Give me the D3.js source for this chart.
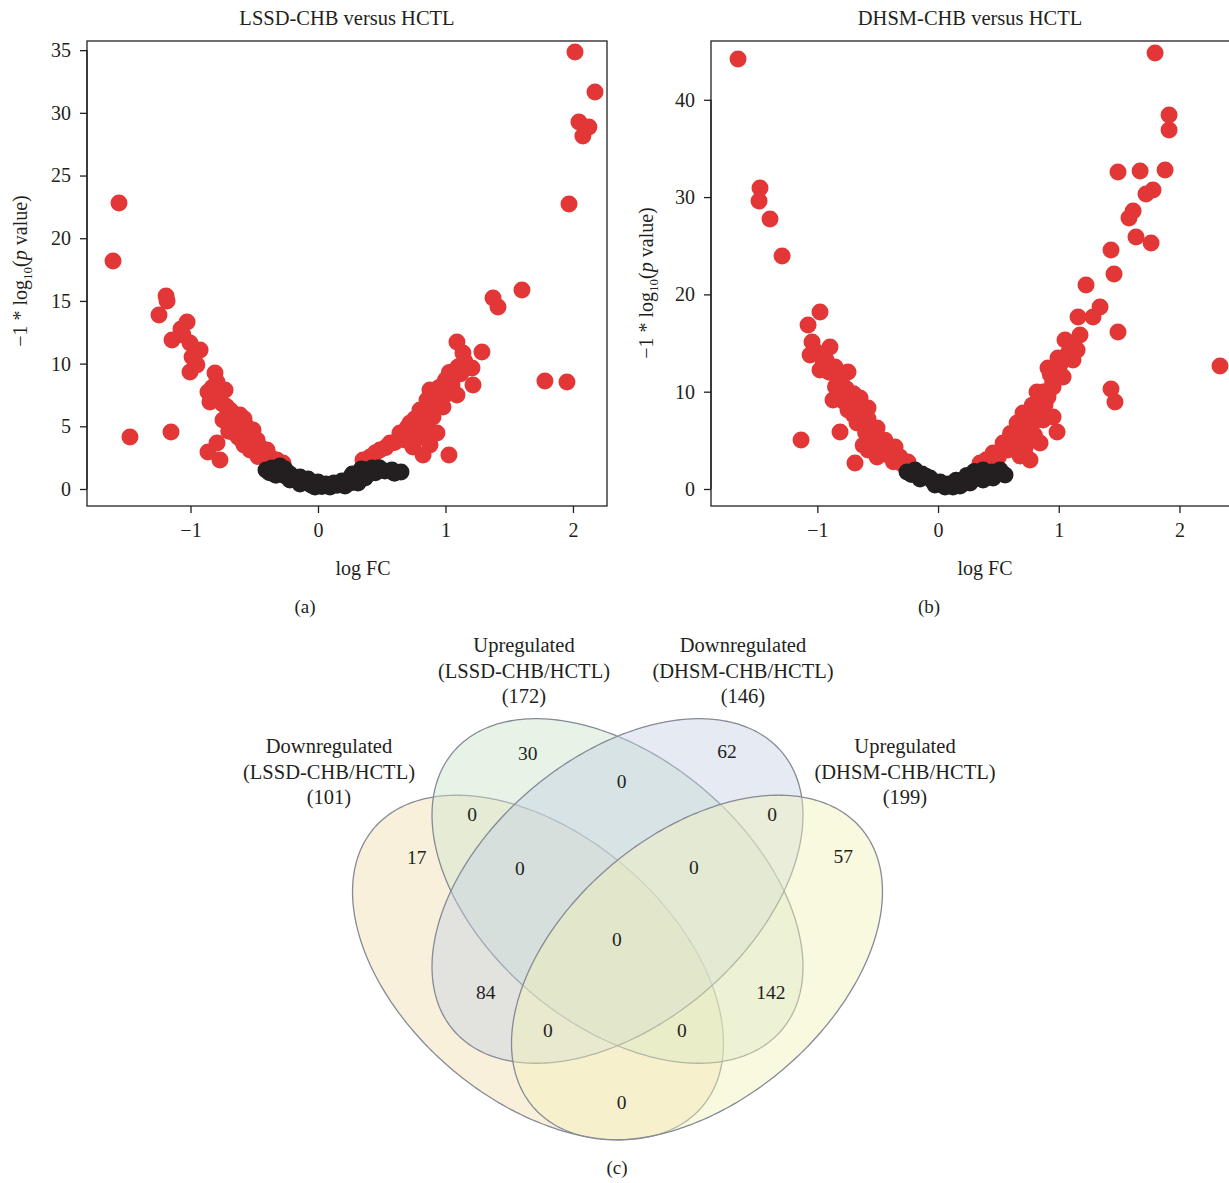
<!DOCTYPE html>
<html>
<head>
<meta charset="utf-8">
<script src="https://cdn.jsdelivr.net/npm/d3@7"></script>
<style>
  body { margin: 0; background: #fff; }
  svg { display: block; font-family: "Liberation Serif", "DejaVu Serif", serif; }
</style>
</head>
<body>
<div id="chart"></div>
<script>
// ---- volcano (a): LSSD-CHB versus HCTL, [logFC, -log10 p]
const lssdRed = [
  [-1.561,22.81],[-1.608,18.18],[-1.192,15.39],[-1.184,14.99],[-1.247,13.88],[-1.027,13.32],
  [-1.075,12.76],[-1.145,11.88],[-1.059,12.28],[-1.004,11.64],[-0.925,11.08],[-0.988,10.53],
  [-1.004,9.33],[-0.950,9.90],[-0.808,9.25],[-0.792,8.53],[-0.830,8.10],[-0.863,7.74],
  [-0.800,7.60],[-0.847,6.94],[-0.769,7.10],[-0.750,6.80],[-0.729,7.89],[-0.720,6.60],
  [-0.690,6.30],[-0.660,6.00],[-0.612,5.90],[-0.745,5.50],[-0.675,5.66],[-0.700,5.20],
  [-0.640,5.30],[-0.580,5.60],[-0.651,4.94],[-0.557,4.94],[-0.700,4.60],[-0.660,4.50],
  [-0.600,4.60],[-0.627,4.15],[-0.573,4.31],[-0.540,4.20],[-0.510,4.70],[-0.600,3.90],
  [-0.478,3.91],[-0.500,3.60],[-0.580,3.50],[-0.533,3.11],[-0.455,3.35],[-0.400,3.11],
  [-0.430,2.80],[-0.470,2.60],[-0.376,2.55],[-0.350,2.00],[-0.792,3.67],[-0.863,2.95],
  [-0.769,2.31],[-0.322,2.31],[-0.275,2.07],[-1.475,4.15],[-1.153,4.55],
  [2.016,34.85],[2.173,31.66],[2.047,29.27],[2.125,28.87],[2.078,28.15],[1.969,22.73],
  [1.600,15.87],[1.373,15.23],[1.412,14.51],[1.780,8.61],[1.953,8.53],[1.090,11.72],
  [1.286,10.93],[1.137,10.85],[1.150,10.20],[1.098,9.73],[1.208,9.65],[1.030,9.30],
  [1.120,9.20],[1.216,8.29],[1.051,8.29],[1.000,8.70],[0.950,8.10],[1.090,7.50],
  [0.996,7.50],[0.930,7.30],[0.878,7.89],[0.894,7.10],[0.855,7.10],[0.860,6.90],
  [0.980,6.54],[0.880,6.50],[0.800,6.30],[0.820,6.00],[0.902,5.74],[0.840,5.60],
  [0.760,5.60],[0.800,5.10],[0.722,5.26],[0.700,4.90],[0.780,4.80],[0.860,4.90],
  [0.933,4.47],[0.900,4.40],[0.824,4.15],[0.761,4.55],[0.720,4.50],[0.643,4.47],
  [0.660,4.10],[0.682,3.91],[0.600,3.70],[0.565,3.67],[0.745,3.35],[0.878,3.50],
  [0.530,3.30],[0.824,2.71],[0.486,3.11],[0.450,2.90],[0.408,2.55],[0.353,2.31],[1.027,2.71]
];
const lssdBlack = [
  [-0.408,1.52],[-0.380,1.30],[-0.361,1.67],[-0.330,1.10],[-0.298,1.83],[-0.282,1.36],
  [-0.260,1.60],[-0.250,1.00],[-0.220,1.20],[-0.220,0.72],[-0.180,0.80],[-0.141,0.96],
  [-0.141,0.40],[-0.100,0.60],[-0.078,0.80],[-0.050,0.30],[0.000,0.56],[-0.024,0.16],
  [0.030,0.20],[0.063,0.40],[0.094,0.16],[0.125,0.48],[0.150,0.30],[0.188,0.64],
  [0.212,0.24],[0.251,0.88],[0.260,0.50],[0.270,1.20],[0.314,1.20],[0.314,0.48],
  [0.330,0.80],[0.340,1.60],[0.369,0.88],[0.376,1.52],[0.400,1.20],[0.424,1.67],
  [0.450,1.30],[0.480,1.70],[0.525,1.44],[0.580,1.52],[0.600,1.25],[0.651,1.36]
];
const lssdXTicks = [-1, 0, 1, 2];
const lssdYTicks = [0, 5, 10, 15, 20, 25, 30, 35];

// ---- volcano (b): DHSM-CHB versus HCTL
const dhsmRed = [
  [-1.657,44.19],[-1.475,30.94],[-1.483,29.60],[-1.392,27.75],[-1.292,23.95],[-0.978,18.19],
  [-1.077,16.86],[-1.044,15.11],[-1.020,14.20],[-0.895,14.59],[-1.060,13.77],[-0.950,13.00],
  [-0.928,13.26],[-0.978,12.23],[-0.900,12.00],[-0.853,12.54],[-0.746,12.02],[-0.800,11.40],
  [-0.812,10.89],[-0.850,10.50],[-0.760,10.30],[-0.700,9.80],[-0.870,9.15],[-0.771,9.97],
  [-0.780,9.00],[-0.646,9.35],[-0.729,9.35],[-0.680,8.70],[-0.620,8.20],[-0.580,8.32],
  [-0.746,8.12],[-0.700,7.60],[-0.630,7.60],[-0.580,7.20],[-0.630,6.80],[-0.671,6.78],
  [-0.505,6.27],[-0.530,6.00],[-0.600,5.80],[-0.500,5.20],[-0.440,5.00],[-0.563,5.34],
  [-0.520,4.60],[-0.620,4.50],[-0.580,4.01],[-0.456,4.73],[-0.400,4.00],[-0.356,4.32],
  [-0.480,3.70],[-0.505,3.29],[-0.414,3.49],[-0.370,2.80],[-0.315,3.29],[-0.300,2.60],
  [-0.249,2.77],[-1.135,5.04],[-0.812,5.86],[-0.688,2.67],
  [1.798,44.81],[1.914,38.44],[1.914,36.90],[1.881,32.79],[1.491,32.58],[1.674,32.68],
  [1.781,30.73],[1.723,30.32],[1.616,28.57],[1.582,27.85],[1.640,25.90],[1.765,25.28],
  [1.433,24.56],[1.458,22.10],[1.226,20.97],[2.336,12.64],[1.433,10.28],[1.466,8.94],
  [1.491,16.14],[1.342,18.71],[1.284,17.68],[1.160,17.68],[1.176,15.83],[1.052,15.31],
  [1.100,15.00],[1.152,14.29],[1.080,14.00],[0.994,13.46],[1.118,13.26],[1.020,13.00],
  [1.000,12.30],[0.911,12.44],[0.930,11.80],[1.036,11.51],[0.950,11.00],[0.953,10.48],
  [0.880,10.00],[0.820,9.97],[0.911,9.46],[0.860,9.00],[0.886,8.63],[0.780,8.60],
  [0.820,8.00],[0.953,7.40],[0.870,7.09],[0.760,7.20],[0.986,5.86],[0.704,7.81],
  [0.655,6.78],[0.787,6.78],[0.720,6.30],[0.762,6.06],[0.600,5.70],[0.700,5.60],
  [0.800,5.50],[0.621,5.34],[0.679,5.04],[0.845,4.73],[0.620,4.60],[0.550,4.40],
  [0.720,4.20],[0.660,4.10],[0.680,3.40],[0.762,2.98],[0.539,4.73],[0.580,4.00],
  [0.500,3.30],[0.456,3.70],[0.400,3.00],[0.348,2.67]
];
const dhsmBlack = [
  [-0.257,1.75],[-0.220,1.50],[-0.191,1.95],[-0.180,1.60],[-0.133,1.54],[-0.149,1.03],
  [-0.100,1.30],[-0.066,1.13],[-0.050,0.90],[-0.025,0.41],[0.017,0.72],[0.030,0.50],
  [0.058,0.21],[0.083,0.51],[0.100,0.40],[0.124,0.21],[0.150,0.90],[0.166,0.72],
  [0.182,0.31],[0.200,0.50],[0.232,1.03],[0.240,1.40],[0.265,0.62],[0.280,0.90],
  [0.300,1.80],[0.307,1.54],[0.330,1.20],[0.373,1.95],[0.373,0.92],[0.400,1.50],
  [0.420,1.20],[0.447,1.75],[0.456,1.13],[0.500,1.60],[0.514,1.95],[0.555,1.44]
];
const dhsmXTicks = [-1, 0, 1, 2];
const dhsmYTicks = [0, 10, 20, 30, 40];

// ---- venn (c)
const setNames = ["Downregulated", "Upregulated", "Downregulated", "Upregulated"];
const setGroups = ["(LSSD-CHB/HCTL)", "(LSSD-CHB/HCTL)", "(DHSM-CHB/HCTL)", "(DHSM-CHB/HCTL)"];
const setTotals = [101, 172, 146, 199];
const regionCounts = [30, 62, 17, 57, 0, 0, 0, 0, 0, 0, 84, 142, 0, 0, 0];

const RED = "#E33737", INK = "#231F20";
const width = 1229, height = 1183;

const svg = d3.select("#chart").append("svg")
  .attr("width", width).attr("height", height);

function volcano(cfg) {
  const g = svg.append("g");
  const x = d3.scaleLinear().domain(cfg.xDomain).range([cfg.left, cfg.right]);
  const y = d3.scaleLinear().domain(cfg.yDomain).range([cfg.bottom, cfg.top]);

  g.append("g").selectAll("circle").data(cfg.red).join("circle")
    .attr("cx", d => x(d[0])).attr("cy", d => y(d[1]))
    .attr("r", 8.5).attr("fill", RED);
  g.append("g").selectAll("circle").data(cfg.black).join("circle")
    .attr("cx", d => x(d[0])).attr("cy", d => y(d[1]))
    .attr("r", 8.5).attr("fill", INK);

  // frame
  g.append("rect")
    .attr("x", cfg.left).attr("y", cfg.top)
    .attr("width", cfg.right - cfg.left).attr("height", cfg.bottom - cfg.top)
    .attr("fill", "none").attr("stroke", INK).attr("stroke-width", 1.3);

  const xa = g.append("g").attr("transform", "translate(0," + cfg.bottom + ")")
    .call(d3.axisBottom(x).tickValues(cfg.xTicks).tickSize(7).tickPadding(10)
      .tickFormat(d => d < 0 ? "\u2212" + Math.abs(d) : d));
  const ya = g.append("g").attr("transform", "translate(" + cfg.left + ",0)")
    .call(d3.axisLeft(y).tickValues(cfg.yTicks).tickSize(7).tickPadding(9));
  [xa, ya].forEach(a => {
    a.select(".domain").remove();
    a.selectAll("line").attr("stroke", INK).attr("stroke-width", 1.3);
    a.selectAll("text").attr("fill", INK).attr("font-size", 20)
      .attr("font-family", "Liberation Serif, serif");
  });
  g.append("line")
    .attr("x1", cfg.left).attr("x2", cfg.left)
    .attr("y1", y(cfg.yTicks[0])).attr("y2", y(cfg.yTicks[cfg.yTicks.length - 1]))
    .attr("stroke", INK).attr("stroke-width", 1.3);

  g.append("text").attr("x", cfg.titleX).attr("y", 25)
    .attr("text-anchor", "middle").attr("font-size", 20.5).attr("fill", INK)
    .text(cfg.title);
  g.append("text").attr("x", cfg.xLabelX).attr("y", 575)
    .attr("text-anchor", "middle").attr("font-size", 20).attr("fill", INK)
    .text("log FC");
  g.append("text").attr("x", cfg.panelX).attr("y", 613)
    .attr("text-anchor", "middle").attr("font-size", 19).attr("fill", INK)
    .text(cfg.panel);

  const yl = g.append("text")
    .attr("transform", "translate(" + cfg.yLabelX + "," + cfg.yLabelY + ") rotate(-90)")
    .attr("text-anchor", "middle").attr("font-size", 20).attr("fill", INK);
  yl.append("tspan").text("\u22121 * log");
  yl.append("tspan").attr("dy", 5).attr("font-size", 13).text("10");
  yl.append("tspan").attr("dy", -5).text("(");
  yl.append("tspan").attr("font-style", "italic").text("p");
  yl.append("tspan").text(" value)");
}

volcano({
  red: lssdRed, black: lssdBlack, xTicks: lssdXTicks, yTicks: lssdYTicks,
  xDomain: [-1.812, 2.267], yDomain: [-1.356, 35.73],
  left: 87, right: 607, top: 41, bottom: 506,
  title: "LSSD-CHB versus HCTL", titleX: 347, xLabelX: 363, panel: "(a)", panelX: 305,
  yLabelX: 27, yLabelY: 271
});
volcano({
  red: dhsmRed, black: dhsmBlack, xTicks: dhsmXTicks, yTicks: dhsmYTicks,
  xDomain: [-1.881, 2.659], yDomain: [-1.747, 46.04],
  left: 711, right: 1259, top: 41, bottom: 506,
  title: "DHSM-CHB versus HCTL", titleX: 970, xLabelX: 985, panel: "(b)", panelX: 929,
  yLabelX: 653, yLabelY: 283
});

// ---- venn diagram, drawn in a unit frame
const vx = d3.scaleLinear().domain([0, 1]).range([352, 883]);
const vy = d3.scaleLinear().domain([0, 1]).range([1140, 717]);
const ellipses = [
  { cx: 0.3503, cy: 0.4078, r: -0.44, fill: "#F2DCAF" },
  { cx: 0.5,    cy: 0.5887, r: -0.44, fill: "#CAE3CA" },
  { cx: 0.5,    cy: 0.5887, r:  0.44, fill: "#C3CFE3" },
  { cx: 0.6497, cy: 0.4078, r:  0.44, fill: "#F2F2B9" }
];
const EW = 0.3493, EH = 0.4073;
const angles = d3.range(0, 2 * Math.PI, Math.PI / 180);
const ellLine = d3.line().curve(d3.curveLinearClosed);
const vg = svg.append("g");
vg.selectAll("path").data(ellipses).join("path")
  .attr("d", e => ellLine(angles.map(t => [
    vx(e.cx + EW * Math.cos(t)),
    vy(e.cy + EH * (e.r * Math.cos(t) + Math.sqrt(1 - e.r * e.r) * Math.sin(t)))
  ])))
  .attr("fill", e => e.fill).attr("fill-opacity", 0.44)
  .attr("stroke", "#858A96").attr("stroke-width", 1.3);

const regionPos = [
  [0.331, 0.913], [0.706, 0.917], [0.122, 0.667], [0.925, 0.669], [0.508, 0.846],
  [0.226, 0.768], [0.791, 0.768], [0.316, 0.641], [0.644, 0.643], [0.499, 0.473],
  [0.252, 0.348], [0.789, 0.348], [0.369, 0.258], [0.621, 0.258], [0.508, 0.087]
];
vg.append("g").selectAll("text").data(regionCounts).join("text")
  .attr("x", (d, i) => vx(regionPos[i][0]))
  .attr("y", (d, i) => vy(regionPos[i][1]) + 6)
  .attr("text-anchor", "middle").attr("font-size", 19.5).attr("fill", INK)
  .text(d => d);

const setLabelPos = [[329, 753], [524, 652], [743, 652], [905, 753]];
setNames.forEach((name, i) => {
  const t = vg.append("text").attr("text-anchor", "middle")
    .attr("font-size", 20.5).attr("fill", INK);
  [name, setGroups[i], "(" + setTotals[i] + ")"].forEach((line, j) => {
    t.append("tspan").attr("x", setLabelPos[i][0])
      .attr("y", setLabelPos[i][1] + j * 25.5).text(line);
  });
});

svg.append("text").attr("x", 617).attr("y", 1174)
  .attr("text-anchor", "middle").attr("font-size", 19).attr("fill", INK)
  .text("(c)");
</script>
</body>
</html>
